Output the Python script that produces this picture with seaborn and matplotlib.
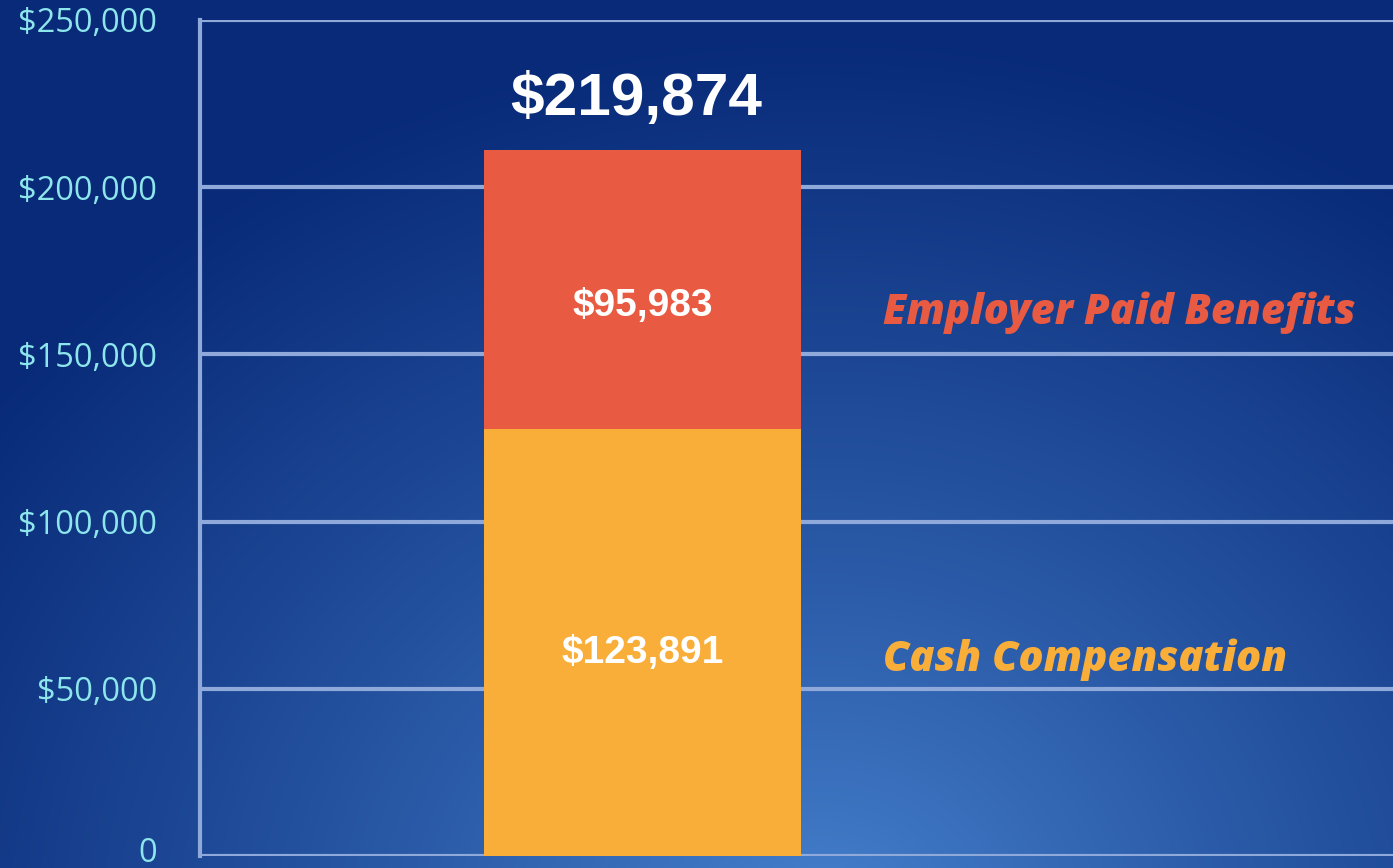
import numpy as np
import pandas as pd
import matplotlib
matplotlib.use("Agg")
import matplotlib.pyplot as plt
import matplotlib.transforms as mtransforms
import seaborn as sns

# ---- data ----
categories = ["Total Compensation"]
cash_values = [127700]          # bar segment height as drawn
benefit_values = [83400]        # bar segment height as drawn
cash_labels = ["$123,891"]
benefit_labels = ["$95,983"]
total_labels = ["$219,874"]
series_names = ["Employer Paid Benefits", "Cash Compensation"]
y_ticks = [0, 50000, 100000, 150000, 200000, 250000]
y_tick_labels = ["0", "$50,000", "$100,000", "$150,000", "$200,000", "$250,000"]

RED = "#E95A42"
ORANGE = "#F9AE3A"
TICK_COLOR = "#8DE6EC"
GRID_COLOR = "#8EA9DA"

sns.set_theme(style="white")
plt.rcParams["font.family"] = ["Open Sans", "DejaVu Sans"]

W, H = 1393, 868
fig = plt.figure(figsize=(W / 100, H / 100), dpi=100)

# background radial gradient
bg = fig.add_axes([0, 0, 1, 1], zorder=-10)
yy, xx = np.mgrid[0:H, 0:W]
cx, cy = 820, 930
r = np.sqrt(((xx - cx) / 1.15) ** 2 + (yy - cy) ** 2)
t = np.clip(r / 900.0, 0, 1) ** 0.85
c0 = np.array([0x48, 0x84, 0xD0]) / 255.0
c1 = np.array([0x08, 0x2A, 0x78]) / 255.0
img = c0[None, None, :] * (1 - t[..., None]) + c1[None, None, :] * t[..., None]
bg.imshow(img, aspect="auto", extent=[0, W, H, 0])
bg.set_axis_off()

ax = fig.add_axes([200 / W, 12 / H, (W - 200) / W, 836 / H])
ax.set_facecolor("none")

df = pd.DataFrame({
    "category": categories,
    "cash": cash_values,
    "benefits": benefit_values,
})
df["total"] = df["cash"] + df["benefits"]

sns.barplot(data=df, x="category", y="total", color=RED, saturation=1,
            width=0.8, ax=ax, zorder=3, linewidth=0, edgecolor="none")
sns.barplot(data=df, x="category", y="cash", color=ORANGE, saturation=1,
            width=0.8, ax=ax, zorder=4, linewidth=0, edgecolor="none")

bar_w = 0.8
R = bar_w * (W - 200) / 317.0
frac = (642.5 - 200) / (W - 200)
ax.set_xlim(-frac * R, (1 - frac) * R)
ax.set_ylim(0, 250000)

ax.set_yticks(y_ticks)
ax.set_yticklabels(y_tick_labels)
ax.tick_params(axis="y", length=0, pad=31, labelsize=23.5, labelcolor=TICK_COLOR)
for lab in ax.get_yticklabels():
    if lab.get_text() == "0":
        shift = mtransforms.ScaledTranslation(0, 7 / 100, fig.dpi_scale_trans)
        lab.set_transform(lab.get_transform() + shift)
ax.set_xticks([])
ax.set_xlabel("")
ax.set_ylabel("")

for s in ["top", "right", "bottom"]:
    ax.spines[s].set_visible(False)
ax.spines["left"].set_color(GRID_COLOR)
ax.spines["left"].set_linewidth(3)
ax.yaxis.grid(True, color=GRID_COLOR, linewidth=3)
ax.set_axisbelow(True)

for i, cat in enumerate(categories):
    c = df["cash"][i]
    b = df["benefits"][i]
    ax.text(i, c / 2 - 3000, cash_labels[i], ha="center", va="center",
            color="white", fontsize=28, fontweight="bold",
            family=["Liberation Sans", "DejaVu Sans"], zorder=5)
    ax.text(i, c + b / 2 - 5000, benefit_labels[i], ha="center", va="center",
            color="white", fontsize=28, fontweight="bold",
            family=["Liberation Sans", "DejaVu Sans"], zorder=5)
    ax.text(i - 0.015, c + b + 15000, total_labels[i], ha="center", va="center",
            color="white", fontsize=43.5, fontweight="bold",
            family=["Liberation Sans", "DejaVu Sans"], zorder=5)

# series labels to the right
fig.text(883 / W, 1 - 313 / H, series_names[0], color=RED, fontsize=30,
         fontweight=800, style="italic", ha="left", va="center")
fig.text(883 / W, 1 - 660 / H, series_names[1], color=ORANGE, fontsize=30,
         fontweight=800, style="italic", ha="left", va="center")

fig.savefig("out.png", dpi=100)
